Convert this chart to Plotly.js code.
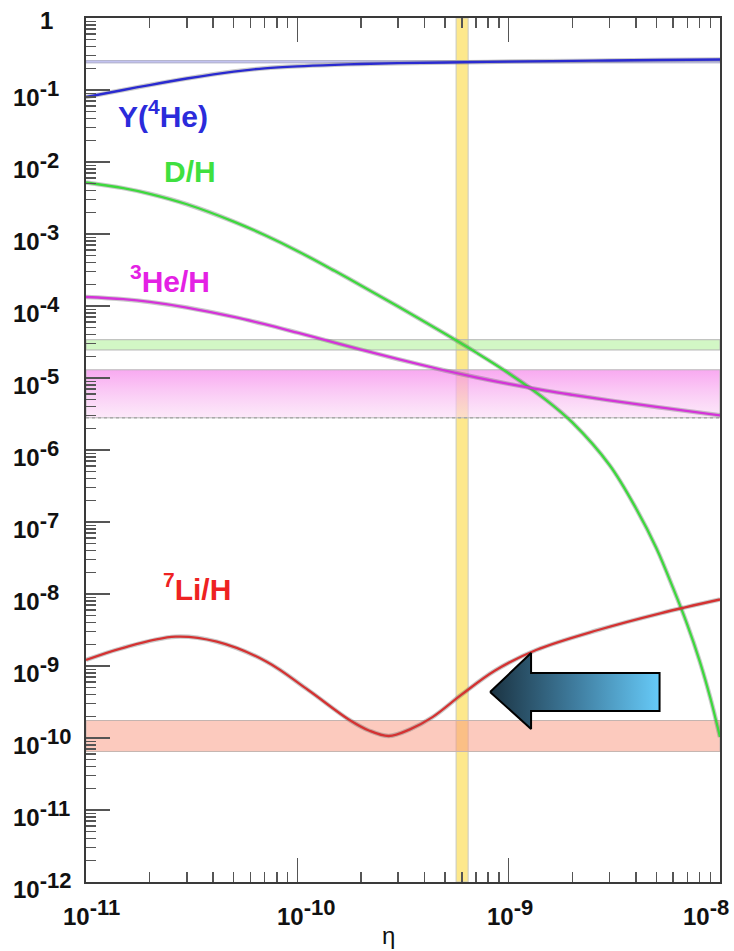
<!DOCTYPE html>
<html><head><meta charset="utf-8">
<script src="https://cdn.plot.ly/plotly-3.0.1.min.js"></script>
<style>html,body{margin:0;padding:0;background:#fff}</style>
</head><body><div id="chart" style="width:734px;height:951px"></div>
<script>
// ---------- data ----------
const etaHe = [1e-11, 1.5e-11, 2e-11, 3e-11, 5e-11, 7e-11, 1e-10, 1.5e-10, 2e-10, 3e-10, 5e-10, 1e-9, 2e-9, 3e-9, 5e-9, 1e-8];
const yHe   = [0.0799, 0.100, 0.1173, 0.1444, 0.1806, 0.2001, 0.2134, 0.2239, 0.2297, 0.2357, 0.2410, 0.2479, 0.2535, 0.2568, 0.2610, 0.2652];

const etaD = [1e-11, 1.5e-11, 2e-11, 3e-11, 5e-11, 7e-11, 1e-10, 1.5e-10, 2e-10, 3e-10, 5e-10, 7e-10, 1e-9, 1.5e-9, 2e-9, 3e-9, 4e-9, 5e-9, 6e-9, 7e-9, 8e-9, 9e-9, 1e-8];
const yD   = [5.19e-3, 4.34e-3, 3.62e-3, 2.59e-3, 1.487e-3, 9.68e-4, 5.82e-4, 3.08e-4, 1.93e-4, 9.84e-5, 4.11e-5, 2.27e-5, 1.166e-5, 4.98e-6, 2.42e-6, 6.19e-7, 1.555e-7, 4.33e-8, 1.204e-8, 3.76e-9, 1.19e-9, 3.6e-10, 1.03e-10];

const etaHe3 = [1e-11, 1.5e-11, 2e-11, 3e-11, 5e-11, 7e-11, 1e-10, 1.5e-10, 2e-10, 3e-10, 5e-10, 7e-10, 1e-9, 1.5e-9, 2e-9, 3e-9, 5e-9, 1e-8];
const yHe3   = [1.334e-4, 1.243e-4, 1.140e-4, 9.53e-5, 7.06e-5, 5.59e-5, 4.26e-5, 3.10e-5, 2.48e-5, 1.824e-5, 1.271e-5, 1.023e-5, 8.28e-6, 6.68e-6, 5.84e-6, 4.89e-6, 3.96e-6, 3.03e-6];

const etaLi = [1e-11, 1.472e-11, 2.65e-11, 4.16e-11, 7.16e-11, 1.125e-10, 1.766e-10, 2.18e-10, 2.71e-10, 3.41e-10, 4.36e-10, 5.98e-10, 8.59e-10, 1.349e-9, 2.65e-9, 5.22e-9, 1e-8];
const yLi   = [1.211e-9, 1.761e-9, 2.552e-9, 2.175e-9, 1.147e-9, 4.64e-10, 1.778e-10, 1.271e-10, 1.066e-10, 1.32e-10, 1.95e-10, 4.0e-10, 8.6e-10, 1.668e-9, 3.16e-9, 5.39e-9, 8.39e-9];

// observational bands [low, high]
const bandHe  = [0.238, 0.256];
const bandD   = [2.45e-5, 3.4e-5];
const bandHe3 = [2.8e-6, 1.3e-5];
const bandLi  = [6.5e-11, 1.75e-10];
const bandEta = [5.64e-10, 6.43e-10];

const etaRange = [1e-11, 1e-8];
const yRange = [1e-12, 1];

// tick labels
const yTickExp  = [-1, -2, -3, -4, -5, -6, -7, -8, -9, -10, -11, -12];
const xTickExp  = [-11, -10, -9, -8];
const supText = e => '10<sup><span style="font-size:22px">' + e + '</span></sup>';
const yTickText = yTickExp.map(supText);
const xTickText = xTickExp.map(supText);

// arrow outline (log10 eta, log10 y)
const arrowLX = [-9.088, -8.894, -8.894, -8.286, -8.286, -8.894, -8.894, -9.088];
const arrowLY = [-9.361, -8.819, -9.097, -9.097, -9.625, -9.625, -9.875, -9.361];

// ---------- geometry ----------
const W = 734, H = 951, L = 86, R = 14, T = 18, B = 69;
const plotW = W - L - R, plotH = H - T - B;
const px2x = p => (p - L) / plotW;
const py2y = p => (H - B - p) / plotH;
const FONT = 'Liberation Sans, Arial, Helvetica, sans-serif';

function bandTrace(xr, yr, fill, lineColor, dash) {
  return {
    x: [xr[0], xr[1], xr[1], xr[0], xr[0]],
    y: [yr[0], yr[0], yr[1], yr[1], yr[0]],
    mode: 'lines', fill: 'toself', fillcolor: fill,
    line: {color: lineColor, width: 1, dash: dash || 'solid'},
    hoverinfo: 'skip', showlegend: false
  };
}

const traces = [];
traces.push(bandTrace(bandEta, yRange, '#fde88c', '#c8c8c0'));
traces.push(bandTrace(etaRange, bandHe, 'rgba(150,150,235,0.55)', '#b0b0c8'));
traces.push(bandTrace(etaRange, bandD, 'rgba(165,240,140,0.5)', '#b4b4b4'));
const he3Band = bandTrace(etaRange, bandHe3, 'rgba(245,120,235,0.7)', '#b8b8b8');
he3Band.fillgradient = {type: 'vertical', colorscale: [[0, 'rgba(250,215,245,0.55)'], [1, 'rgba(246,140,236,0.75)']]};
traces.push(he3Band);
traces.push({x: etaRange, y: [bandHe3[0], bandHe3[0]], mode: 'lines',
  line: {color: '#aaaaaa', width: 1.5, dash: 'dot'}, hoverinfo: 'skip', showlegend: false});
traces.push(bandTrace(etaRange, bandLi, 'rgba(250,150,125,0.5)', '#c4b4b0'));

function curve(x, y, color) {
  traces.push({x: x, y: y, mode: 'lines', line: {color: 'rgba(100,100,100,0.35)', width: 4.5, shape: 'spline', smoothing: 1},
    hoverinfo: 'skip', showlegend: false});
  traces.push({x: x, y: y, mode: 'lines', line: {color: color, width: 2.3, shape: 'spline', smoothing: 1},
    showlegend: false});
}
curve(etaHe, yHe, '#2a2ad0');
curve(etaD, yD, '#3ed83e');
curve(etaHe3, yHe3, '#d434d8');
curve(etaLi, yLi, '#d43232');

traces.push({
  x: arrowLX.map(v => Math.pow(10, v)), y: arrowLY.map(v => Math.pow(10, v)),
  mode: 'lines', fill: 'toself', fillcolor: '#3a7ea0',
  fillgradient: {type: 'horizontal', colorscale: [[0, '#1b3342'], [0.5, '#3f7c9e'], [1, '#66caf8']]},
  line: {color: '#000', width: 2}, hoverinfo: 'skip', showlegend: false
});

const annotations = [];
const tickFont = {family: FONT, size: 24, color: '#111', weight: 'bold'};
yTickExp.forEach((e, i) => annotations.push({
  xref: 'paper', yref: 'y', x: px2x(11), y: e, xanchor: 'left', yanchor: 'middle', yshift: -3,
  text: yTickText[i], showarrow: false, font: tickFont
}));
annotations.push({xref: 'paper', yref: 'y', x: px2x(46), y: 0, xanchor: 'center', yanchor: 'middle', yshift: -2,
  text: '1', showarrow: false, font: tickFont});
const xShift = [5, 9, 1, -14];
xTickExp.forEach((e, i) => annotations.push({
  xref: 'x', yref: 'paper', x: e, y: py2y(913), xanchor: 'center', yanchor: 'middle', xshift: xShift[i],
  text: xTickText[i], showarrow: false, font: tickFont
}));
annotations.push({xref: 'paper', yref: 'paper', x: px2x(388), y: py2y(935), xanchor: 'center', yanchor: 'middle',
  text: 'η', showarrow: false, font: {family: FONT, size: 24, color: '#111'}});

function label(text, cx, cy, color) {
  annotations.push({xref: 'paper', yref: 'paper', x: px2x(cx), y: py2y(cy), xanchor: 'center', yanchor: 'middle',
    text: text, showarrow: false, font: {family: FONT, size: 30, color: color, weight: 'bold'}});
}
label('Y(<sup>4</sup>He)', 163, 114, '#2b2bdb');
label('D/H', 190, 172, '#3fe03f');
label('<sup>3</sup>He/H', 170, 279, '#e421e4');
label('<sup>7</sup>Li/H', 197, 587, '#ee2222');

const axBase = {
  type: 'log', showgrid: false, zeroline: false, showline: true, linecolor: '#3a3a3a', linewidth: 2,
  ticks: 'inside', ticklen: 24, tickwidth: 1.5, tickcolor: '#555', dtick: 1, showticklabels: false,
  minor: {ticks: 'inside', ticklen: 10, tickwidth: 1.5, tickcolor: '#555', dtick: 'D1', showgrid: false}
};

const layout = {
  width: W, height: H,
  margin: {l: L, r: R, t: T, b: B, pad: 0},
  paper_bgcolor: '#fff', plot_bgcolor: '#fff',
  showlegend: false,
  xaxis: Object.assign({}, axBase, {range: [-11, -8], mirror: 'ticks'}),
  yaxis: Object.assign({}, axBase, {range: [-12, 0], mirror: true}),
  annotations: annotations,
  font: {family: FONT}
};

Plotly.newPlot('chart', traces, layout, {staticPlot: true, displayModeBar: false});
</script>
</body></html>
